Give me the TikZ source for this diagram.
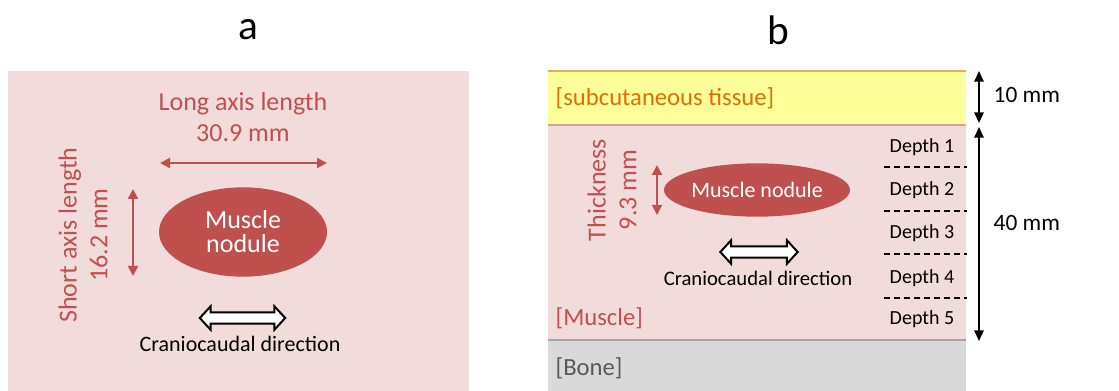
\documentclass[tikz,border=0pt]{standalone}
\usepackage{fontspec}
\setmainfont{Carlito}
\usetikzlibrary{arrows.meta,shapes.geometric,shapes.arrows}
\definecolor{skin}{HTML}{F2DCDB}
\definecolor{nodred}{HTML}{C0504D}
\definecolor{fat}{HTML}{FFFF99}
\definecolor{fatline}{HTML}{F0A860}
\definecolor{fattext}{HTML}{E46C0A}
\definecolor{border}{HTML}{D9A09C}
\definecolor{bonefill}{HTML}{D9D9D9}
\definecolor{boneline}{HTML}{A6A6A6}
\definecolor{bonetext}{HTML}{595959}

\begin{document}
\begin{tikzpicture}[x=0.75pt, y=-0.75pt,
  panel/.style={font=\fontsize{31}{34}\selectfont},
  lbl/.style={text=nodred, align=center, font=\fontsize{19.5}{23}\selectfont},
  layer/.style={anchor=west, font=\fontsize{18.5}{21}\selectfont},
  nodule/.style={ellipse, fill=nodred, text=white, align=center, inner sep=0pt},
  dimarr/.style={{Triangle[length=7.5pt, width=7.5pt]}-{Triangle[length=7.5pt, width=7.5pt]},
                 nodred, line width=1.5pt},
  blkarr/.style={{Triangle[length=8pt, width=7pt]}-{Triangle[length=8pt, width=7pt]},
                 black, line width=1.5pt},
  dirarr/.style={double arrow, draw=black, fill=white, line width=1.5pt, inner sep=3.5pt,
                 double arrow head extend=4.5pt, double arrow tip angle=95, minimum height=64pt},
  dirlbl/.style={font=\fontsize{16.5}{19}\selectfont},
  depth/.style={font=\fontsize{15}{18}\selectfont},
  cut/.style={dashed, dash pattern=on 4.5pt off 3pt, line width=0.9pt}
]
\useasboundingbox (0,0) rectangle (1119,391);

% panel a
\fill[skin] (8,71) rectangle (469,391);
\node[panel] (ta) at (248,30) {a};
\node[lbl] (longlbl) at (243,117) {Long axis length\\30.9 mm};
\node[lbl, rotate=90] (shortlbl) at (83,235) {Short axis length\\16.2 mm};
\node[nodule, minimum width=126pt, minimum height=67pt,
      font=\fontsize{19.5}{18}\selectfont] (nodA) at (243,232) {Muscle\\nodule};
\coordinate (la1) at (160,163);
\coordinate (la2) at (327,163);
\coordinate (sa1) at (133,189);
\coordinate (sa2) at (133,276);
\draw[dimarr] (la1) -- (la2);
\draw[dimarr] (sa1) -- (sa2);
\node[dirarr] (dirA) at (242.5,318) {};
\node[dirlbl] (dirlblA) at (240,344) {Craniocaudal direction};

% panel b
\fill[fat] (548,71) rectangle (966,125);
\fill[skin] (548,125) rectangle (966,340);
\fill[bonefill] (548,340) rectangle (966,391);
\draw[fatline, line width=1.5pt] (548,71) -- (966,71);
\draw[border, line width=1.5pt] (548,125) -- (966,125);
\draw[boneline, line width=1.5pt] (548,340) -- (966,340);
\node[panel] (tb) at (778,30) {b};
\node[layer, text=fattext] (subq) at (551,98) {[subcutaneous tissue]};
\node[layer, text=nodred] (musc) at (551,318) {[Muscle]};
\node[layer, text=bonetext] (bone) at (551,368) {[Bone]};

\node[lbl, rotate=90] (thick) at (612,190) {Thickness\\9.3 mm};
\node[nodule, minimum width=115pt, minimum height=40pt,
      font=\fontsize{16.5}{19}\selectfont] (nodB) at (757,190) {Muscle nodule};
\coordinate (th1) at (657,165);
\coordinate (th2) at (657,215);
\draw[dimarr] (th1) -- (th2);
\node[dirarr, minimum height=58pt] (dirB) at (759,252) {};
\node[dirlbl, font=\fontsize{15.5}{18}\selectfont] (dirlblB) at (758,278) {Craniocaudal direction};

\foreach \i/\y in {1/147,2/190,3/233,4/278,5/319}
  \node[depth] (dep\i) at (922,\y) {Depth \i};
\foreach \y in {167,211,254,298}
  \draw[cut] (884,\y) -- (967,\y);

\coordinate (r1) at (979,71);
\coordinate (r2) at (979,123);
\coordinate (r3) at (979,127);
\coordinate (r4) at (979,341);
\draw[blkarr] (r1) -- (r2);
\draw[blkarr] (r3) -- (r4);
\node[layer, font=\fontsize{17.5}{21}\selectfont] (mm10) at (989,95) {10 mm};
\node[layer, font=\fontsize{17.5}{21}\selectfont] (mm40) at (989,223) {40 mm};
\end{tikzpicture}
\end{document}
